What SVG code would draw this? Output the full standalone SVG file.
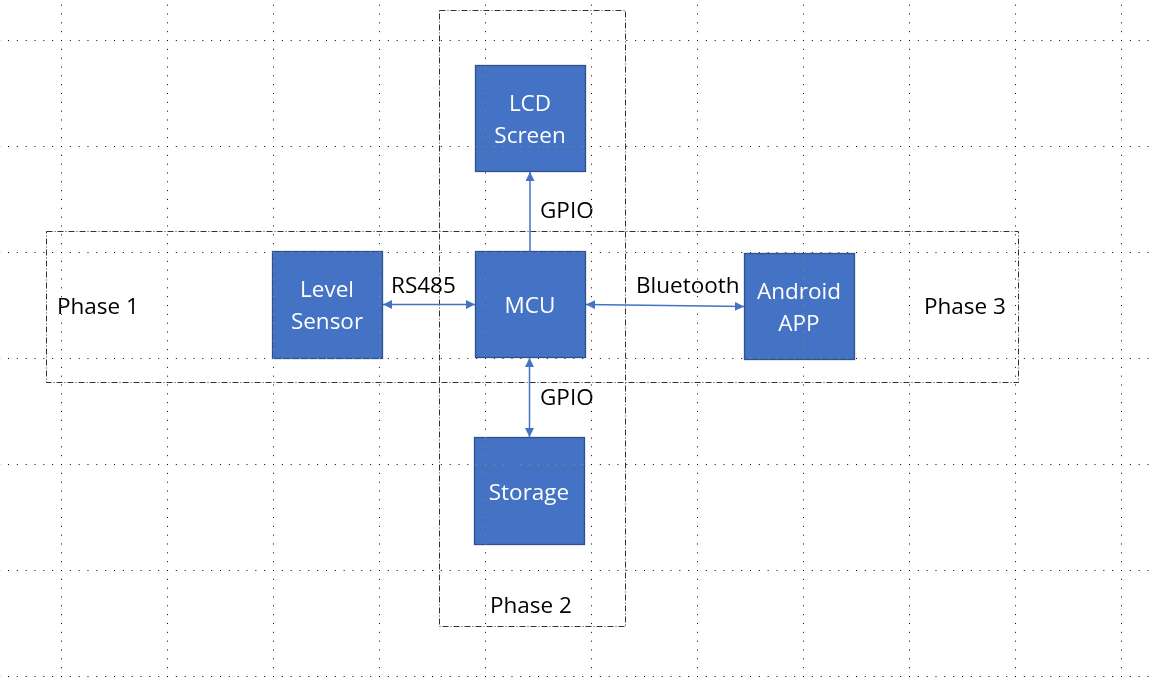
<svg xmlns="http://www.w3.org/2000/svg" width="1152" height="680" viewBox="0 0 1152 680">
<defs>
<style>
.bg{fill:#ffffff}
.grid line{stroke:#ffffff;stroke-width:1;stroke-dasharray:1 7.8333}
.grid{mix-blend-mode:difference}
.frame{fill:none;stroke:#333333;stroke-width:1;stroke-dasharray:6 2 1 2}
.node rect{fill:#4472C4;stroke:#2F528F;stroke-width:1.3}
.node text{fill:#ffffff;font-family:"Open Sans","Noto Sans",sans-serif;font-size:22.5px;text-anchor:middle}
.lbl{fill:#000000;font-family:"Open Sans","Noto Sans",sans-serif;font-size:22.5px}
.conn line{stroke:#4472C4;stroke-width:1.5;fill:none}
</style>
<marker id="ah" viewBox="0 0 10 10" refX="10" refY="5" markerWidth="6" markerHeight="6" orient="auto-start-reverse" markerUnits="strokeWidth">
<path d="M0,0 L10,5 L0,10 Z" fill="#4472C4"/>
</marker>
</defs>
<rect class="bg" x="0" y="0" width="1152" height="680"/>

<g id="frames">
<rect class="frame" x="439.5" y="10.5" width="186" height="616"/>
<rect class="frame" x="46.5" y="231.5" width="972" height="151"/>
</g>

<g class="conn" id="connectors">
<line x1="530" y1="251" x2="530" y2="172" marker-end="url(#ah)"/>
<line x1="383" y1="304.5" x2="475" y2="304.5" marker-start="url(#ah)" marker-end="url(#ah)"/>
<line x1="586" y1="304.5" x2="744" y2="306.5" marker-start="url(#ah)" marker-end="url(#ah)"/>
<line x1="529.5" y1="358" x2="529.5" y2="437" marker-start="url(#ah)" marker-end="url(#ah)"/>
</g>

<g id="labels">
<text class="lbl" x="540" y="218">GPIO</text>
<text class="lbl" x="391" y="293">RS485</text>
<text class="lbl" x="636" y="293">Bluetooth</text>
<text class="lbl" x="540" y="405">GPIO</text>
<text class="lbl" x="57" y="314">Phase 1</text>
<text class="lbl" x="924" y="314">Phase 3</text>
<text class="lbl" x="490" y="613">Phase 2</text>
</g>

<g class="node" id="lcd">
<rect x="475.5" y="65.5" width="110" height="106"/>
<text x="530" y="111">LCD</text>
<text x="530" y="143">Screen</text>
</g>
<g class="node" id="level-sensor">
<rect x="272.5" y="251.5" width="110" height="107"/>
<text x="327" y="297">Level</text>
<text x="327" y="329">Sensor</text>
</g>
<g class="node" id="mcu">
<rect x="475.5" y="251.5" width="110" height="106"/>
<text x="530" y="313">MCU</text>
</g>
<g class="node" id="android">
<rect x="744.5" y="253.5" width="110" height="106"/>
<text x="799" y="299">Android</text>
<text x="799" y="331">APP</text>
</g>
<g class="node" id="storage">
<rect x="474.5" y="437.5" width="110" height="107"/>
<text x="529" y="500">Storage</text>
</g>

<g class="grid" id="grid">
<line x1="-45" y1="40.5" x2="1152" y2="40.5"/>
<line x1="-45" y1="146.5" x2="1152" y2="146.5"/>
<line x1="-45" y1="252.5" x2="1152" y2="252.5"/>
<line x1="-45" y1="358.5" x2="1152" y2="358.5"/>
<line x1="-45" y1="464.5" x2="1152" y2="464.5"/>
<line x1="-45" y1="570.5" x2="1152" y2="570.5"/>
<line x1="-45" y1="676.5" x2="1152" y2="676.5"/>
<line x1="61.5" y1="-66" x2="61.5" y2="680"/>
<line x1="167.5" y1="-66" x2="167.5" y2="680"/>
<line x1="273.5" y1="-66" x2="273.5" y2="680"/>
<line x1="379.5" y1="-66" x2="379.5" y2="680"/>
<line x1="485.5" y1="-66" x2="485.5" y2="680"/>
<line x1="591.5" y1="-66" x2="591.5" y2="680"/>
<line x1="697.5" y1="-66" x2="697.5" y2="680"/>
<line x1="803.5" y1="-66" x2="803.5" y2="680"/>
<line x1="909.5" y1="-66" x2="909.5" y2="680"/>
<line x1="1015.5" y1="-66" x2="1015.5" y2="680"/>
<line x1="1121.5" y1="-66" x2="1121.5" y2="680"/>
</g>
</svg>
